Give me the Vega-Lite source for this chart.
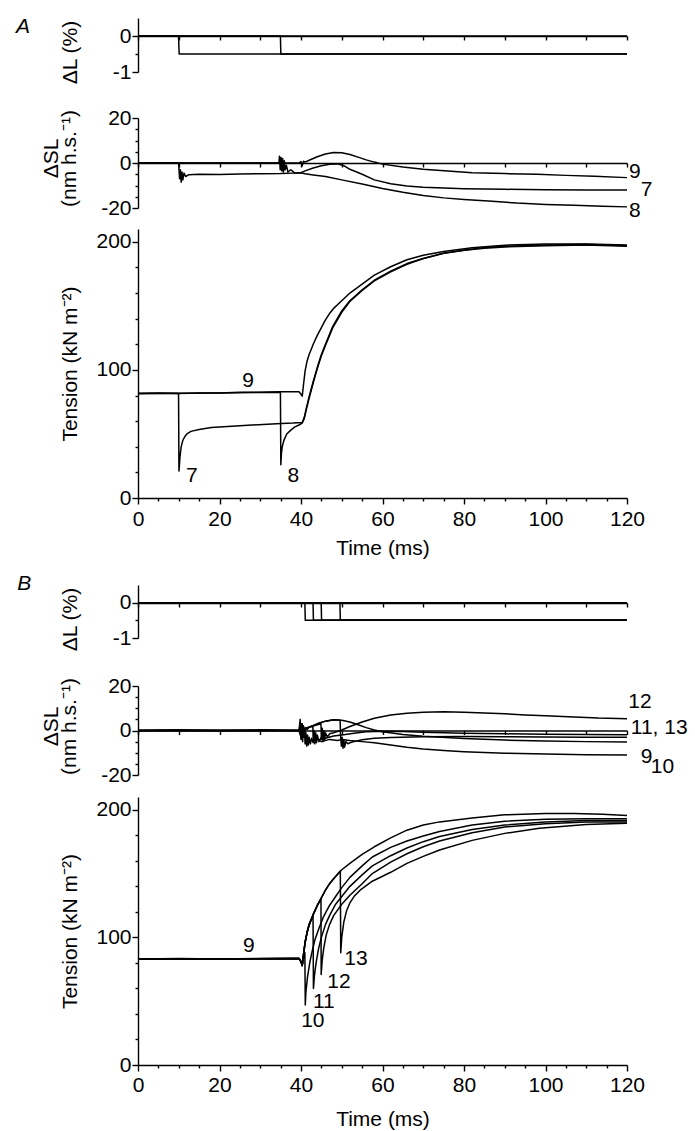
{
"$schema": "https://vega.github.io/schema/vega-lite/v6.json",
"padding": {"left": 16, "top": 15, "right": 5, "bottom": 2},
"background": "white",
"config": {
  "font": "Liberation Sans",
  "view": {"stroke": null},
  "axis": {"labelFontSize": 21, "titleFontSize": 21, "labelColor": "black", "titleColor": "black", "domainColor": "black", "tickColor": "black", "titleFontWeight": "normal", "domainWidth": 1.4, "tickWidth": 1.4, "labelPadding": 1, "grid": false, "labelFlush": false, "labelOverlap": false, "titleLineHeight": 18},
  "text": {"font": "Liberation Sans", "fontSize": 21, "color": "black", "align": "center", "baseline": "middle"},
  "line": {"color": "black", "strokeWidth": 1.5, "strokeJoin": "round"}
},
"datasets": {
  "dlA": [
    {"s":"9","t":0,"v":0},{"s":"9","t":120,"v":0},
    {"s":"7","t":0,"v":0},{"s":"7","t":9.95,"v":0},{"s":"7","t":10.1,"v":-0.5},{"s":"7","t":120,"v":-0.5},
    {"s":"8","t":0,"v":0},{"s":"8","t":34.95,"v":0},{"s":"8","t":35.05,"v":-0.5},{"s":"8","t":120,"v":-0.5}
  ],
  "dslA": [
    {"s":"9","t":0,"v":0},{"s":"9","t":39.5,"v":0},{"s":"9","t":40,"v":0.6},{"s":"9","t":40.3,"v":-1.2},{"s":"9","t":40.6,"v":0.8},{"s":"9","t":41,"v":0.4},{"s":"9","t":42,"v":1.2},{"s":"9","t":44,"v":2.8},{"s":"9","t":46,"v":4},{"s":"9","t":48,"v":4.7},{"s":"9","t":50,"v":4.6},{"s":"9","t":52,"v":3.8},{"s":"9","t":54,"v":2.6},{"s":"9","t":56,"v":1.4},{"s":"9","t":58,"v":0.4},{"s":"9","t":60,"v":-0.5},{"s":"9","t":65,"v":-1.8},{"s":"9","t":70,"v":-2.8},{"s":"9","t":76,"v":-3.6},{"s":"9","t":82,"v":-4.3},{"s":"9","t":90,"v":-4.7},{"s":"9","t":98,"v":-5},{"s":"9","t":105,"v":-5.5},{"s":"9","t":112,"v":-5.9},{"s":"9","t":120,"v":-6.5},
    {"s":"7","t":0,"v":0},{"s":"7","t":9.9,"v":0},{"s":"7","t":10,"v":-1},{"s":"7","t":10.2,"v":-7},{"s":"7","t":10.4,"v":-3},{"s":"7","t":10.6,"v":-8.5},{"s":"7","t":10.8,"v":-4},{"s":"7","t":11,"v":-7.5},{"s":"7","t":11.3,"v":-4.5},{"s":"7","t":11.7,"v":-6},{"s":"7","t":12.5,"v":-5.2},{"s":"7","t":15,"v":-5},{"s":"7","t":20,"v":-5.1},{"s":"7","t":25,"v":-4.9},{"s":"7","t":30,"v":-4.8},{"s":"7","t":35,"v":-4.7},{"s":"7","t":38,"v":-4.5},{"s":"7","t":40,"v":-4.3},{"s":"7","t":41,"v":-3.5},{"s":"7","t":43,"v":-2.2},{"s":"7","t":45,"v":-1.2},{"s":"7","t":47,"v":-0.6},{"s":"7","t":49,"v":-0.4},{"s":"7","t":50.5,"v":-1.2},{"s":"7","t":52,"v":-2.8},{"s":"7","t":55,"v":-5},{"s":"7","t":58,"v":-7.5},{"s":"7","t":62,"v":-9.2},{"s":"7","t":66,"v":-10.2},{"s":"7","t":70,"v":-10.8},{"s":"7","t":80,"v":-11.4},{"s":"7","t":90,"v":-11.7},{"s":"7","t":100,"v":-11.9},{"s":"7","t":110,"v":-12},{"s":"7","t":120,"v":-12},
    {"s":"8","t":0,"v":0},{"s":"8","t":34.6,"v":0},{"s":"8","t":34.7,"v":3},{"s":"8","t":34.9,"v":-3},{"s":"8","t":35.1,"v":2.5},{"s":"8","t":35.3,"v":-3.5},{"s":"8","t":35.5,"v":2},{"s":"8","t":35.7,"v":-4},{"s":"8","t":35.9,"v":1},{"s":"8","t":36.1,"v":-3},{"s":"8","t":36.4,"v":-1},{"s":"8","t":36.8,"v":-4},{"s":"8","t":37.5,"v":-3},{"s":"8","t":38.5,"v":-4.5},{"s":"8","t":40,"v":-4.3},{"s":"8","t":41,"v":-4.8},{"s":"8","t":43,"v":-5.3},{"s":"8","t":46,"v":-6},{"s":"8","t":50,"v":-7.5},{"s":"8","t":55,"v":-9.3},{"s":"8","t":60,"v":-11.3},{"s":"8","t":65,"v":-13},{"s":"8","t":70,"v":-14.4},{"s":"8","t":75,"v":-15.5},{"s":"8","t":80,"v":-16.2},{"s":"8","t":86,"v":-16.9},{"s":"8","t":93,"v":-17.8},{"s":"8","t":100,"v":-18.4},{"s":"8","t":107,"v":-18.8},{"s":"8","t":114,"v":-19.2},{"s":"8","t":120,"v":-19.5}
  ],
  "tenA": [
    {"s":"9","t":0,"v":81.5},{"s":"9","t":5,"v":82},{"s":"9","t":10,"v":81.5},{"s":"9","t":15,"v":82},{"s":"9","t":20,"v":82},{"s":"9","t":25,"v":82.5},{"s":"9","t":30,"v":82.5},{"s":"9","t":35,"v":83},{"s":"9","t":39.5,"v":83},{"s":"9","t":40,"v":81},{"s":"9","t":40.3,"v":79.5},{"s":"9","t":40.6,"v":88},{"s":"9","t":41,"v":99},{"s":"9","t":41.5,"v":107},{"s":"9","t":42,"v":112},{"s":"9","t":42.5,"v":116},{"s":"9","t":43,"v":120},{"s":"9","t":44,"v":127},{"s":"9","t":45,"v":133},{"s":"9","t":46,"v":139},{"s":"9","t":47,"v":144},{"s":"9","t":48,"v":148},{"s":"9","t":50,"v":154},{"s":"9","t":52,"v":160},{"s":"9","t":55,"v":167},{"s":"9","t":58,"v":174},{"s":"9","t":62,"v":180.5},{"s":"9","t":66,"v":186},{"s":"9","t":70,"v":189.5},{"s":"9","t":75,"v":192.5},{"s":"9","t":82,"v":195.3},{"s":"9","t":90,"v":197.4},{"s":"9","t":100,"v":198.3},{"s":"9","t":110,"v":198.3},{"s":"9","t":120,"v":197.5},
    {"s":"7","t":0,"v":81.5},{"s":"7","t":9.95,"v":81.5},{"s":"7","t":10.05,"v":21},{"s":"7","t":10.3,"v":32},{"s":"7","t":10.6,"v":40},{"s":"7","t":11,"v":45},{"s":"7","t":11.5,"v":48},{"s":"7","t":12,"v":50},{"s":"7","t":13,"v":52},{"s":"7","t":15,"v":53.5},{"s":"7","t":18,"v":55},{"s":"7","t":23,"v":56},{"s":"7","t":28,"v":57},{"s":"7","t":34,"v":58},{"s":"7","t":38,"v":58.5},{"s":"7","t":40.3,"v":59},{"s":"7","t":40.8,"v":63},{"s":"7","t":41.3,"v":70},{"s":"7","t":42,"v":79},{"s":"7","t":43,"v":91},{"s":"7","t":44,"v":102},{"s":"7","t":45,"v":112},{"s":"7","t":46,"v":120},{"s":"7","t":47.8,"v":134},{"s":"7","t":50,"v":146},{"s":"7","t":52,"v":154},{"s":"7","t":55,"v":162.5},{"s":"7","t":58,"v":170},{"s":"7","t":62,"v":177},{"s":"7","t":66,"v":183},{"s":"7","t":70,"v":187},{"s":"7","t":75,"v":191},{"s":"7","t":80,"v":193.5},{"s":"7","t":85,"v":195.5},{"s":"7","t":90,"v":196.5},{"s":"7","t":100,"v":197.5},{"s":"7","t":110,"v":198},{"s":"7","t":120,"v":197},
    {"s":"8","t":0,"v":81.5},{"s":"8","t":20,"v":82},{"s":"8","t":34.95,"v":82.5},{"s":"8","t":35.05,"v":26},{"s":"8","t":35.2,"v":35},{"s":"8","t":35.4,"v":40},{"s":"8","t":35.8,"v":45},{"s":"8","t":36.5,"v":50},{"s":"8","t":37.5,"v":53},{"s":"8","t":38.5,"v":55.5},{"s":"8","t":39.5,"v":57},{"s":"8","t":40.3,"v":58.5},{"s":"8","t":40.8,"v":62},{"s":"8","t":41.3,"v":69},{"s":"8","t":42,"v":78},{"s":"8","t":43,"v":90},{"s":"8","t":44,"v":101},{"s":"8","t":45,"v":111},{"s":"8","t":46,"v":119},{"s":"8","t":47.8,"v":133},{"s":"8","t":50,"v":145},{"s":"8","t":52,"v":153.5},{"s":"8","t":55,"v":162},{"s":"8","t":58,"v":169.5},{"s":"8","t":62,"v":176.5},{"s":"8","t":66,"v":182.5},{"s":"8","t":70,"v":187},{"s":"8","t":75,"v":191},{"s":"8","t":80,"v":193.5},{"s":"8","t":85,"v":195},{"s":"8","t":90,"v":196},{"s":"8","t":100,"v":197},{"s":"8","t":110,"v":197.5},{"s":"8","t":120,"v":196.5}
  ],
  "dlB": [
    {"s":"9","t":0,"v":0},{"s":"9","t":120,"v":0},
    {"s":"10","t":0,"v":0},{"s":"10","t":40.95,"v":0},{"s":"10","t":41.05,"v":-0.5},{"s":"10","t":120,"v":-0.5},
    {"s":"11","t":0,"v":0},{"s":"11","t":42.95,"v":0},{"s":"11","t":43.05,"v":-0.5},{"s":"11","t":120,"v":-0.5},
    {"s":"12","t":0,"v":0},{"s":"12","t":44.95,"v":0},{"s":"12","t":45.05,"v":-0.5},{"s":"12","t":120,"v":-0.5},
    {"s":"13","t":0,"v":0},{"s":"13","t":49.55,"v":0},{"s":"13","t":49.65,"v":-0.5},{"s":"13","t":120,"v":-0.5}
  ],
  "dslB": [
    {"s":"9","t":0,"v":0},{"s":"9","t":10,"v":0.3},{"s":"9","t":20,"v":0},{"s":"9","t":30,"v":0.3},{"s":"9","t":39.5,"v":0},{"s":"9","t":39.8,"v":5},{"s":"9","t":40,"v":-4},{"s":"9","t":40.2,"v":3},{"s":"9","t":40.4,"v":-5},{"s":"9","t":40.6,"v":2},{"s":"9","t":40.8,"v":-3},{"s":"9","t":41.1,"v":1},{"s":"9","t":41.5,"v":0.5},{"s":"9","t":42,"v":1.5},{"s":"9","t":44,"v":3},{"s":"9","t":46,"v":4.2},{"s":"9","t":48,"v":4.8},{"s":"9","t":50,"v":4.6},{"s":"9","t":52,"v":3.8},{"s":"9","t":54,"v":2.6},{"s":"9","t":56,"v":1.3},{"s":"9","t":58,"v":0.2},{"s":"9","t":60,"v":-0.6},{"s":"9","t":65,"v":-1.8},{"s":"9","t":70,"v":-2.6},{"s":"9","t":80,"v":-3.6},{"s":"9","t":90,"v":-4.3},{"s":"9","t":100,"v":-4.7},{"s":"9","t":110,"v":-5},{"s":"9","t":120,"v":-5.2},
    {"s":"10","t":0,"v":0},{"s":"10","t":39.5,"v":0},{"s":"10","t":40,"v":3},{"s":"10","t":40.3,"v":-4},{"s":"10","t":40.6,"v":2},{"s":"10","t":40.9,"v":-1},{"s":"10","t":41,"v":-6},{"s":"10","t":41.2,"v":-1},{"s":"10","t":41.4,"v":-7},{"s":"10","t":41.6,"v":-2},{"s":"10","t":41.8,"v":-6.5},{"s":"10","t":42,"v":-3},{"s":"10","t":42.3,"v":-6},{"s":"10","t":42.6,"v":-3.5},{"s":"10","t":43,"v":-5.5},{"s":"10","t":44,"v":-4},{"s":"10","t":45,"v":-5},{"s":"10","t":47,"v":-4},{"s":"10","t":49,"v":-4.5},{"s":"10","t":50,"v":-4},{"s":"10","t":52,"v":-4.5},{"s":"10","t":55,"v":-5},{"s":"10","t":58,"v":-5.5},{"s":"10","t":62,"v":-6.5},{"s":"10","t":66,"v":-7.5},{"s":"10","t":70,"v":-8.3},{"s":"10","t":75,"v":-9},{"s":"10","t":80,"v":-9.5},{"s":"10","t":90,"v":-10.2},{"s":"10","t":100,"v":-10.6},{"s":"10","t":110,"v":-10.9},{"s":"10","t":120,"v":-11},
    {"s":"11","t":0,"v":0},{"s":"11","t":39.5,"v":0},{"s":"11","t":40,"v":-3},{"s":"11","t":40.3,"v":3},{"s":"11","t":40.6,"v":-2},{"s":"11","t":41,"v":1},{"s":"11","t":42,"v":1.5},{"s":"11","t":42.9,"v":2},{"s":"11","t":43,"v":-5},{"s":"11","t":43.2,"v":0},{"s":"11","t":43.4,"v":-6},{"s":"11","t":43.6,"v":-1},{"s":"11","t":43.8,"v":-5.5},{"s":"11","t":44,"v":-2},{"s":"11","t":44.4,"v":-5},{"s":"11","t":45,"v":-3},{"s":"11","t":46,"v":-3.5},{"s":"11","t":48,"v":-2.5},{"s":"11","t":50,"v":-2},{"s":"11","t":53,"v":-1.2},{"s":"11","t":56,"v":-0.6},{"s":"11","t":60,"v":-0.3},{"s":"11","t":65,"v":-0.5},{"s":"11","t":70,"v":-0.8},{"s":"11","t":80,"v":-1.2},{"s":"11","t":90,"v":-1.5},{"s":"11","t":100,"v":-1.7},{"s":"11","t":110,"v":-1.8},{"s":"11","t":120,"v":-1.9},
    {"s":"12","t":0,"v":0},{"s":"12","t":39.5,"v":0},{"s":"12","t":40,"v":2},{"s":"12","t":40.4,"v":-3},{"s":"12","t":41,"v":1},{"s":"12","t":42,"v":1.5},{"s":"12","t":44,"v":2.6},{"s":"12","t":44.9,"v":3},{"s":"12","t":45,"v":-4},{"s":"12","t":45.2,"v":1},{"s":"12","t":45.4,"v":-5},{"s":"12","t":45.6,"v":0},{"s":"12","t":45.8,"v":-4.5},{"s":"12","t":46,"v":-1},{"s":"12","t":46.5,"v":-3},{"s":"12","t":47,"v":-1.5},{"s":"12","t":48,"v":-1},{"s":"12","t":50,"v":0.2},{"s":"12","t":52,"v":1.8},{"s":"12","t":55,"v":3.8},{"s":"12","t":58,"v":5.5},{"s":"12","t":62,"v":7},{"s":"12","t":66,"v":7.8},{"s":"12","t":70,"v":8.2},{"s":"12","t":75,"v":8.4},{"s":"12","t":80,"v":8.2},{"s":"12","t":85,"v":7.9},{"s":"12","t":90,"v":7.5},{"s":"12","t":95,"v":7},{"s":"12","t":100,"v":6.6},{"s":"12","t":107,"v":6.1},{"s":"12","t":113,"v":5.6},{"s":"12","t":120,"v":5.3},
    {"s":"13","t":0,"v":0},{"s":"13","t":39.5,"v":0},{"s":"13","t":40,"v":-2},{"s":"13","t":40.3,"v":2},{"s":"13","t":40.6,"v":-1},{"s":"13","t":41,"v":0.8},{"s":"13","t":42,"v":1.5},{"s":"13","t":44,"v":3},{"s":"13","t":46,"v":4.2},{"s":"13","t":48,"v":4.8},{"s":"13","t":49.6,"v":4.6},{"s":"13","t":49.7,"v":-2},{"s":"13","t":49.9,"v":-7},{"s":"13","t":50.1,"v":-3},{"s":"13","t":50.3,"v":-8},{"s":"13","t":50.5,"v":-4},{"s":"13","t":50.7,"v":-7.5},{"s":"13","t":51,"v":-5},{"s":"13","t":51.5,"v":-6},{"s":"13","t":52,"v":-5.5},{"s":"13","t":53,"v":-5},{"s":"13","t":55,"v":-4.2},{"s":"13","t":58,"v":-3.5},{"s":"13","t":62,"v":-3.1},{"s":"13","t":70,"v":-2.8},{"s":"13","t":80,"v":-2.7},{"s":"13","t":90,"v":-2.8},{"s":"13","t":100,"v":-2.9},{"s":"13","t":110,"v":-3},{"s":"13","t":120,"v":-3}
  ],
  "tenB": [
    {"s":"9","t":0,"v":83},{"s":"9","t":10,"v":83.5},{"s":"9","t":20,"v":83},{"s":"9","t":30,"v":83.5},{"s":"9","t":39.5,"v":83.5},{"s":"9","t":40,"v":81},{"s":"9","t":40.3,"v":78},{"s":"9","t":40.6,"v":86},{"s":"9","t":41,"v":96},{"s":"9","t":41.5,"v":104},{"s":"9","t":42,"v":110},{"s":"9","t":43,"v":118},{"s":"9","t":44,"v":125},{"s":"9","t":45,"v":131},{"s":"9","t":46,"v":137},{"s":"9","t":47,"v":142},{"s":"9","t":48,"v":146},{"s":"9","t":50,"v":153},{"s":"9","t":52,"v":158},{"s":"9","t":55,"v":165},{"s":"9","t":58,"v":171},{"s":"9","t":62,"v":178},{"s":"9","t":66,"v":184},{"s":"9","t":70,"v":188},{"s":"9","t":74,"v":190.5},{"s":"9","t":82,"v":193.5},{"s":"9","t":90,"v":196},{"s":"9","t":100,"v":197},{"s":"9","t":107,"v":197},{"s":"9","t":114,"v":196.5},{"s":"9","t":120,"v":195.5},
    {"s":"10","t":0,"v":83},{"s":"10","t":20,"v":83},{"s":"10","t":39.5,"v":83.5},{"s":"10","t":40,"v":81},{"s":"10","t":40.3,"v":78},{"s":"10","t":40.6,"v":84},{"s":"10","t":40.95,"v":88},{"s":"10","t":41.05,"v":47},{"s":"10","t":41.2,"v":57},{"s":"10","t":41.6,"v":69},{"s":"10","t":42.2,"v":81},{"s":"10","t":42.8,"v":90},{"s":"10","t":43.5,"v":99},{"s":"10","t":44.5,"v":108},{"s":"10","t":45.5,"v":116},{"s":"10","t":47,"v":125},{"s":"10","t":48.5,"v":132},{"s":"10","t":50,"v":139},{"s":"10","t":52,"v":147},{"s":"10","t":55,"v":156},{"s":"10","t":57.5,"v":163},{"s":"10","t":62,"v":170.5},{"s":"10","t":66,"v":175.5},{"s":"10","t":70,"v":179.5},{"s":"10","t":74,"v":183},{"s":"10","t":82,"v":188},{"s":"10","t":90,"v":191},{"s":"10","t":100,"v":192.5},{"s":"10","t":110,"v":193},{"s":"10","t":120,"v":193},
    {"s":"11","t":0,"v":83},{"s":"11","t":20,"v":83},{"s":"11","t":39.5,"v":83.5},{"s":"11","t":40,"v":81},{"s":"11","t":40.3,"v":78},{"s":"11","t":40.6,"v":86},{"s":"11","t":41,"v":96},{"s":"11","t":41.5,"v":104},{"s":"11","t":42,"v":110},{"s":"11","t":42.95,"v":117},{"s":"11","t":43.05,"v":60},{"s":"11","t":43.3,"v":70},{"s":"11","t":43.7,"v":80},{"s":"11","t":44.3,"v":91},{"s":"11","t":45,"v":100},{"s":"11","t":46,"v":110},{"s":"11","t":47,"v":117},{"s":"11","t":48.5,"v":126},{"s":"11","t":50,"v":132},{"s":"11","t":52,"v":140},{"s":"11","t":55,"v":149},{"s":"11","t":57.5,"v":156},{"s":"11","t":62,"v":164},{"s":"11","t":66,"v":170},{"s":"11","t":70,"v":175},{"s":"11","t":74,"v":179},{"s":"11","t":82,"v":184.5},{"s":"11","t":90,"v":188},{"s":"11","t":100,"v":190.5},{"s":"11","t":110,"v":191.5},{"s":"11","t":120,"v":191.5},
    {"s":"12","t":0,"v":83},{"s":"12","t":20,"v":83},{"s":"12","t":39.5,"v":83.5},{"s":"12","t":40,"v":81},{"s":"12","t":40.3,"v":78},{"s":"12","t":40.6,"v":86},{"s":"12","t":41,"v":96},{"s":"12","t":41.5,"v":104},{"s":"12","t":42,"v":110},{"s":"12","t":43,"v":118},{"s":"12","t":44,"v":125},{"s":"12","t":44.9,"v":130},{"s":"12","t":44.95,"v":71},{"s":"12","t":45.2,"v":82},{"s":"12","t":45.6,"v":92},{"s":"12","t":46.2,"v":102},{"s":"12","t":47,"v":110},{"s":"12","t":48,"v":117},{"s":"12","t":50,"v":126},{"s":"12","t":52,"v":133},{"s":"12","t":55,"v":142},{"s":"12","t":57.5,"v":150},{"s":"12","t":62,"v":159},{"s":"12","t":66,"v":165.5},{"s":"12","t":70,"v":171},{"s":"12","t":74,"v":175.5},{"s":"12","t":82,"v":182},{"s":"12","t":90,"v":186.5},{"s":"12","t":100,"v":189},{"s":"12","t":110,"v":190.5},{"s":"12","t":120,"v":190.5},
    {"s":"13","t":0,"v":83},{"s":"13","t":20,"v":83},{"s":"13","t":39.5,"v":83.5},{"s":"13","t":40,"v":81},{"s":"13","t":40.3,"v":78},{"s":"13","t":40.6,"v":86},{"s":"13","t":41,"v":96},{"s":"13","t":41.5,"v":104},{"s":"13","t":42,"v":110},{"s":"13","t":43,"v":118},{"s":"13","t":44,"v":125},{"s":"13","t":45,"v":131},{"s":"13","t":46,"v":137},{"s":"13","t":47,"v":142},{"s":"13","t":48,"v":146},{"s":"13","t":49.65,"v":152},{"s":"13","t":49.75,"v":88},{"s":"13","t":50,"v":100},{"s":"13","t":50.5,"v":112},{"s":"13","t":51.2,"v":121},{"s":"13","t":52,"v":127},{"s":"13","t":53,"v":132},{"s":"13","t":54.5,"v":137},{"s":"13","t":57.5,"v":144},{"s":"13","t":62,"v":151},{"s":"13","t":66,"v":158},{"s":"13","t":70,"v":163.5},{"s":"13","t":74,"v":168.5},{"s":"13","t":82,"v":176},{"s":"13","t":90,"v":181.5},{"s":"13","t":98.5,"v":185.5},{"s":"13","t":110,"v":188.5},{"s":"13","t":120,"v":189.5}
  ],
  "labA": [{"t":-28.2,"v":0.25,"label":"A"}],
  "labB": [{"t":-27.9,"v":0.54,"label":"B"}],
  "labDslA": [{"t":121.9,"v":-3.9,"label":"9"},{"t":124.8,"v":-12,"label":"7"},{"t":121.9,"v":-21.3,"label":"8"}],
  "labTenA": [{"t":27,"v":91,"label":"9"},{"t":13.2,"v":17,"label":"7"},{"t":38.1,"v":17,"label":"8"}],
  "labDslB": [{"t":123.2,"v":13,"label":"12"},{"t":127.9,"v":0.9,"label":"11, 13"},{"t":124.8,"v":-12,"label":"9"},{"t":128.7,"v":-16.4,"label":"10"}],
  "labTenB": [{"t":27.2,"v":93.5,"label":"9"},{"t":42.9,"v":34.7,"label":"10"},{"t":45.6,"v":49.6,"label":"11"},{"t":49.3,"v":64.7,"label":"12"},{"t":53.5,"v":83,"label":"13"}]
},
"spacing": 14,
"vconcat": [
  {"spacing": 8, "vconcat": [
    {"spacing": 22, "vconcat": [
      {"width": 489, "height": 54,
       "encoding": {
         "x": {"field": "t", "type": "quantitative", "scale": {"domain": [0, 120], "nice": false, "zero": false}, "axis": {"orient": "bottom", "offset": -36, "values": [0,10,20,30,40,50,60,70,80,90,100,110,120], "labels": false, "title": null, "tickSize": 4}},
         "y": {"field": "v", "type": "quantitative", "scale": {"domain": [-1, 0.5], "nice": false, "zero": false}, "axis": {"values": [-1, -0.5, 0], "labelExpr": "datum.value === -1 ? '-1' : (datum.value === 0 ? '0' : '')", "tickSize": {"condition": {"test": "datum.value === -0.5", "value": 3}, "value": 6}, "title": "ΔL (%)", "titleX": -58, "titleY": 34}}
       },
       "layer": [
         {"data": {"name": "dlA"}, "mark": {"type": "line"}, "encoding": {"detail": {"field": "s"}}},
         {"data": {"name": "labA"}, "mark": {"type": "text", "fontSize": 21, "fontStyle": "italic"}, "encoding": {"text": {"field": "label"}}}
       ]},
      {"width": 489, "height": 90,
       "encoding": {
         "x": {"field": "t", "type": "quantitative", "scale": {"domain": [0, 120], "nice": false, "zero": false}, "axis": {"orient": "bottom", "offset": -45, "values": [0,10,20,30,40,50,60,70,80,90,100,110,120], "labels": false, "title": null, "tickSize": 4}},
         "y": {"field": "v", "type": "quantitative", "scale": {"domain": [-20, 20], "nice": false, "zero": false}, "axis": {"values": [-20,-15,-10,-5,0,5,10,15,20], "labelExpr": "datum.value % 20 === 0 ? '' + datum.value : ''", "tickSize": {"condition": {"test": "datum.value % 20 === 0", "value": 6}, "value": 3}, "title": ["ΔSL", "(nm h.s.⁻¹)"], "titleX": -77, "titleY": 40}}
       },
       "layer": [
         {"data": {"name": "dslA"}, "mark": {"type": "line"}, "encoding": {"detail": {"field": "s"}}},
         {"data": {"name": "labDslA"}, "mark": {"type": "text"}, "encoding": {"text": {"field": "label"}}}
       ]}
    ]},
    {"width": 489, "height": 269,
     "encoding": {
       "x": {"field": "t", "type": "quantitative", "scale": {"domain": [0, 120], "nice": false, "zero": false}, "axis": {"values": [0,5,10,15,20,25,30,35,40,45,50,55,60,65,70,75,80,85,90,95,100,105,110,115,120], "labelExpr": "datum.value % 20 === 0 ? datum.label : ''", "tickSize": {"condition": {"test": "datum.value % 20 === 0", "value": 6}, "value": 3}, "title": "Time (ms)", "labelPadding": 4, "titlePadding": 8}},
       "y": {"field": "v", "type": "quantitative", "scale": {"domain": [0, 210], "nice": false, "zero": false}, "axis": {"values": [0,20,40,60,80,100,120,140,160,180,200], "labelExpr": "datum.value % 100 === 0 ? datum.label : ''", "tickSize": {"condition": {"test": "datum.value % 100 === 0", "value": 6}, "value": 3}, "title": "Tension  (kN m⁻²)", "titleX": -58}}
     },
     "layer": [
       {"data": {"name": "tenA"}, "mark": {"type": "line"}, "encoding": {"detail": {"field": "s"}}},
       {"data": {"name": "labTenA"}, "mark": {"type": "text"}, "encoding": {"text": {"field": "label"}}}
     ]}
  ]},
  {"spacing": 12, "vconcat": [
    {"spacing": 23, "vconcat": [
      {"width": 489, "height": 53,
       "encoding": {
         "x": {"field": "t", "type": "quantitative", "scale": {"domain": [0, 120], "nice": false, "zero": false}, "axis": {"orient": "bottom", "offset": -35, "values": [0,10,20,30,40,50,60,70,80,90,100,110,120], "labels": false, "title": null, "tickSize": 4}},
         "y": {"field": "v", "type": "quantitative", "scale": {"domain": [-1, 0.5], "nice": false, "zero": false}, "axis": {"values": [-1, -0.5, 0], "labelExpr": "datum.value === -1 ? '-1' : (datum.value === 0 ? '0' : '')", "tickSize": {"condition": {"test": "datum.value === -0.5", "value": 3}, "value": 6}, "title": "ΔL (%)", "titleX": -58, "titleY": 34}}
       },
       "layer": [
         {"data": {"name": "dlB"}, "mark": {"type": "line"}, "encoding": {"detail": {"field": "s"}}},
         {"data": {"name": "labB"}, "mark": {"type": "text", "fontSize": 21, "fontStyle": "italic"}, "encoding": {"text": {"field": "label"}}}
       ]},
      {"width": 489, "height": 89,
       "encoding": {
         "x": {"field": "t", "type": "quantitative", "scale": {"domain": [0, 120], "nice": false, "zero": false}, "axis": {"orient": "bottom", "offset": -44.5, "values": [0,10,20,30,40,50,60,70,80,90,100,110,120], "labels": false, "title": null, "tickSize": 4}},
         "y": {"field": "v", "type": "quantitative", "scale": {"domain": [-20, 20], "nice": false, "zero": false}, "axis": {"values": [-20,-15,-10,-5,0,5,10,15,20], "labelExpr": "datum.value % 20 === 0 ? '' + datum.value : ''", "tickSize": {"condition": {"test": "datum.value % 20 === 0", "value": 6}, "value": 3}, "title": ["ΔSL", "(nm h.s.⁻¹)"], "titleX": -77, "titleY": 40}}
       },
       "layer": [
         {"data": {"name": "dslB"}, "mark": {"type": "line"}, "encoding": {"detail": {"field": "s"}}},
         {"data": {"name": "labDslB"}, "mark": {"type": "text"}, "encoding": {"text": {"field": "label"}}}
       ]}
    ]},
    {"width": 489, "height": 268,
     "encoding": {
       "x": {"field": "t", "type": "quantitative", "scale": {"domain": [0, 120], "nice": false, "zero": false}, "axis": {"values": [0,5,10,15,20,25,30,35,40,45,50,55,60,65,70,75,80,85,90,95,100,105,110,115,120], "labelExpr": "datum.value % 20 === 0 ? datum.label : ''", "tickSize": {"condition": {"test": "datum.value % 20 === 0", "value": 6}, "value": 3}, "title": "Time (ms)", "labelPadding": 3, "titlePadding": 13}},
       "y": {"field": "v", "type": "quantitative", "scale": {"domain": [0, 210], "nice": false, "zero": false}, "axis": {"values": [0,20,40,60,80,100,120,140,160,180,200], "labelExpr": "datum.value % 100 === 0 ? datum.label : ''", "tickSize": {"condition": {"test": "datum.value % 100 === 0", "value": 6}, "value": 3}, "title": "Tension (kN m⁻²)", "titleX": -58}}
     },
     "layer": [
       {"data": {"name": "tenB"}, "mark": {"type": "line"}, "encoding": {"detail": {"field": "s"}}},
       {"data": {"name": "labTenB"}, "mark": {"type": "text"}, "encoding": {"text": {"field": "label"}}}
     ]}
  ]}
]
}
